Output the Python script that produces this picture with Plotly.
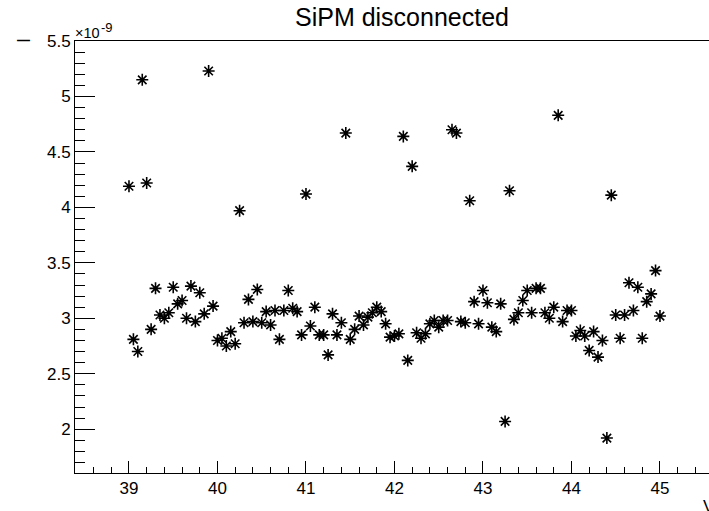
import plotly.graph_objects as go

voltage = [39.00, 39.05, 39.10, 39.15, 39.20, 39.25, 39.30, 39.35, 39.40, 39.45,
           39.50, 39.55, 39.60, 39.65, 39.70, 39.75, 39.80, 39.85, 39.90, 39.95,
           40.00, 40.05, 40.10, 40.15, 40.20, 40.25, 40.30, 40.35, 40.40, 40.45,
           40.50, 40.55, 40.60, 40.65, 40.70, 40.75, 40.80, 40.85, 40.90, 40.95,
           41.00, 41.05, 41.10, 41.15, 41.20, 41.25, 41.30, 41.35, 41.40, 41.45,
           41.50, 41.55, 41.60, 41.65, 41.70, 41.75, 41.80, 41.85, 41.90, 41.95,
           42.00, 42.05, 42.10, 42.15, 42.20, 42.25, 42.30, 42.35, 42.40, 42.45,
           42.50, 42.55, 42.60, 42.65, 42.70, 42.75, 42.80, 42.85, 42.90, 42.95,
           43.00, 43.05, 43.10, 43.15, 43.20, 43.25, 43.30, 43.35, 43.40, 43.45,
           43.50, 43.55, 43.60, 43.65, 43.70, 43.75, 43.80, 43.85, 43.90, 43.95,
           44.00, 44.05, 44.10, 44.15, 44.20, 44.25, 44.30, 44.35, 44.40, 44.45,
           44.50, 44.55, 44.60, 44.65, 44.70, 44.75, 44.80, 44.85, 44.90, 44.95,
           45.00]

# current in units of 1e-9
current_e9 = [4.19, 2.81, 2.70, 5.15, 4.22, 2.90, 3.27, 3.03, 3.00, 3.05,
              3.28, 3.13, 3.16, 3.00, 3.29, 2.97, 3.23, 3.04, 5.23, 3.11,
              2.80, 2.82, 2.75, 2.88, 2.77, 3.97, 2.96, 3.17, 2.97, 3.26,
              2.96, 3.06, 2.94, 3.07, 2.81, 3.07, 3.25, 3.09, 3.06, 2.85,
              4.12, 2.93, 3.10, 2.85, 2.85, 2.67, 3.04, 2.85, 2.96, 4.67,
              2.81, 2.90, 3.02, 2.94, 3.01, 3.05, 3.10, 3.06, 2.95, 2.83,
              2.84, 2.86, 4.64, 2.62, 4.37, 2.87, 2.82, 2.86, 2.95, 2.98,
              2.92, 2.98, 2.98, 4.70, 4.67, 2.97, 2.96, 4.06, 3.15, 2.95,
              3.25, 3.14, 2.92, 2.88, 3.13, 2.07, 4.15, 2.99, 3.05, 3.16,
              3.25, 3.05, 3.27, 3.27, 3.05, 3.00, 3.10, 4.83, 2.97, 3.07,
              3.07, 2.84, 2.89, 2.84, 2.71, 2.88, 2.65, 2.80, 1.92, 4.11,
              3.03, 2.82, 3.03, 3.32, 3.07, 3.28, 2.82, 3.15, 3.22, 3.43,
              3.02]

title_text = "SiPM disconnected"
x_title = "V"
y_title = "I"
exponent_base = "×10"
exponent_power = "-9"

FONT = "Liberation Sans, Arial, Helvetica, sans-serif"

fig = go.Figure()
fig.add_trace(go.Scatter(
    x=voltage, y=current_e9, mode="markers",
    marker=dict(symbol="asterisk-open", size=10, color="black",
                line=dict(color="black", width=1.6)),
    showlegend=False, hoverinfo="skip",
))

# canvas is slightly wider than the 709 px window so the frame's right edge
# falls just outside the visible area, as in the reference
fig.update_layout(
    width=712, height=511,
    margin=dict(l=75, r=0, t=41, b=38, autoexpand=False),
    paper_bgcolor="white", plot_bgcolor="white",
    hovermode=False, dragmode=False,
    font=dict(family=FONT, size=17, color="black"),
    title=dict(text=title_text, x=402 / 712, xanchor="center", y=0.966, yanchor="middle",
               automargin=False,
               font=dict(family=FONT, size=25, color="black")),
    xaxis=dict(range=[38.39, 45.588], showgrid=False, zeroline=False, automargin=False,
               showline=True, linecolor="black", linewidth=1, mirror=True,
               ticks="inside", ticklen=12, tickcolor="black", tickwidth=1,
               dtick=1, tick0=39, tickfont=dict(size=17), fixedrange=True,
               minor=dict(ticks="inside", ticklen=6, dtick=0.2, tick0=39,
                          tickcolor="black", tickwidth=1, showgrid=False)),
    yaxis=dict(range=[1.605, 5.5], showgrid=False, zeroline=False, automargin=False,
               showline=True, linecolor="black", linewidth=1, fixedrange=True,
               ticks="inside", ticklen=20, tickcolor="black", tickwidth=1,
               dtick=0.5, tick0=2, tickfont=dict(size=17),
               minor=dict(ticks="inside", ticklen=10, dtick=0.1, tick0=2,
                          tickcolor="black", tickwidth=1, showgrid=False)),
)

fig.add_annotation(text=exponent_base, xref="paper", yref="paper",
                   x=0, y=1, xanchor="left", yanchor="bottom", showarrow=False,
                   font=dict(family=FONT, size=14.5, color="black"), xshift=-2, yshift=-2)
fig.add_annotation(text=exponent_power, xref="paper", yref="paper",
                   x=0, y=1, xanchor="left", yanchor="bottom", showarrow=False,
                   font=dict(family=FONT, size=13, color="black"), xshift=24, yshift=4)
fig.add_annotation(text=y_title, xref="paper", yref="paper",
                   x=0, y=1, xanchor="center", yanchor="middle", showarrow=False,
                   textangle=-90, xshift=-51,
                   font=dict(family=FONT, size=18, color="black"))
fig.add_annotation(text=x_title, xref="paper", yref="paper",
                   x=1, y=0, xanchor="left", yanchor="top", showarrow=False,
                   xshift=-11, yshift=-22,
                   font=dict(family=FONT, size=17, color="black"))

fig.write_html("out.html", config={"displayModeBar": False, "staticPlot": True},
               post_script="document.body.style.margin='0px';"
                           "document.body.style.overflow='hidden';")
